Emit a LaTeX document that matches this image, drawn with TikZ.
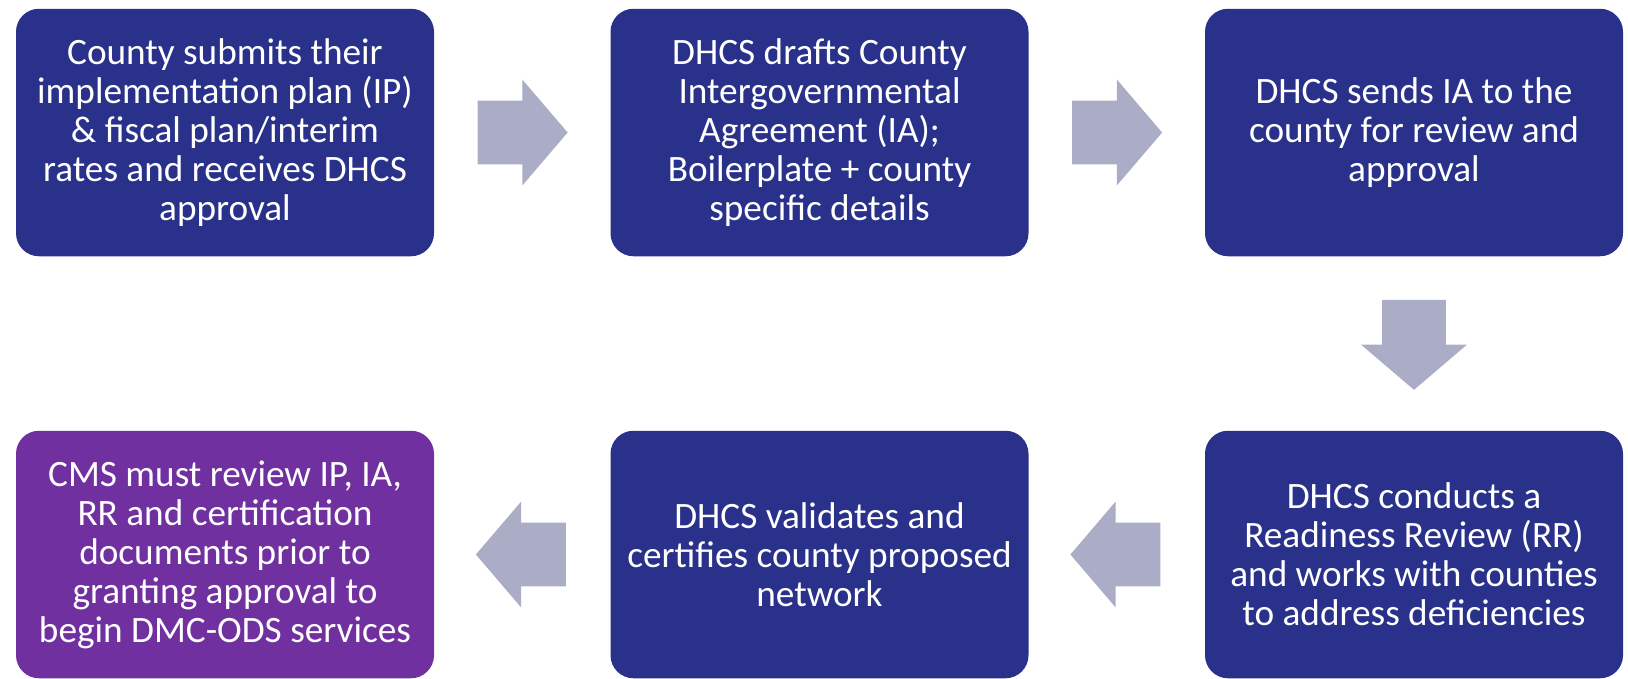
\documentclass[tikz,border=0pt]{standalone}
\usepackage{fontspec}
\setmainfont{Carlito}
\usetikzlibrary{calc,shapes.arrows}
\definecolor{dhcsblue}{RGB}{41,49,138}
\definecolor{cmspurple}{RGB}{112,48,160}
\definecolor{arrowgrey}{RGB}{171,172,198}

\begin{document}
\begin{tikzpicture}[
		bluebox/.style={rectangle, rounded corners=0.46cm, fill=dhcsblue, text=white, minimum width=8.36cm, minimum height=4.95cm, align=center, font=\fontsize{21.2}{22.2}\selectfont},
		purplebox/.style={bluebox, fill=cmspurple},
		flowarrow/.style={single arrow, fill=arrowgrey, inner xsep=0pt, inner ysep=0.63cm, single arrow head extend=0.42cm, single arrow tip angle=99, minimum height=1.8cm, anchor=tail}]
			%%%%% START %%%%%
			
			\useasboundingbox (0, 0) rectangle (32.56, -13.56);
			
			\node[bluebox] (submit) at (4.5, -2.65) {County submits their\\implementation plan (IP)\\\& fiscal plan/interim\\rates and receives DHCS\\approval};
			\node[bluebox] (drafts) at (16.39, -2.65) {DHCS drafts County\\Intergovernmental\\Agreement (IA);\\Boilerplate + county\\specific details};
			\node[bluebox] (sends) at (28.28, -2.65) {DHCS sends IA to the\\county for review and\\approval};
			
			\node[bluebox] (readiness) at (28.28, -11.09) {DHCS conducts a\\Readiness Review (RR)\\and works with counties\\to address deficiencies};
			\node[bluebox] (certify) at (16.39, -11.09) {DHCS validates and\\certifies county proposed\\network};
			\node[purplebox] (cms) at (4.5, -11.09) {CMS must review IP, IA,\\RR and certification\\documents prior to\\granting approval to\\begin DMC-ODS services};
			
			\node[flowarrow] (arrowa) at ($(submit.east)!0.5!(drafts.west)+(-0.9, 0)$) {};
			\node[flowarrow] (arrowb) at ($(drafts.east)!0.5!(sends.west)+(-0.9, 0)$) {};
			\node[flowarrow, rotate=-90] (arrowc) at ($(sends.south)!0.5!(readiness.north)+(0, 0.88)$) {};
			\node[flowarrow, rotate=180] (arrowd) at ($(readiness.west)!0.5!(certify.east)+(0.88, 0)$) {};
			\node[flowarrow, rotate=180] (arrowe) at ($(certify.west)!0.5!(cms.east)+(0.88, 0)$) {};
			
			%%%%% END %%%%%
		\end{tikzpicture}
\end{document}
